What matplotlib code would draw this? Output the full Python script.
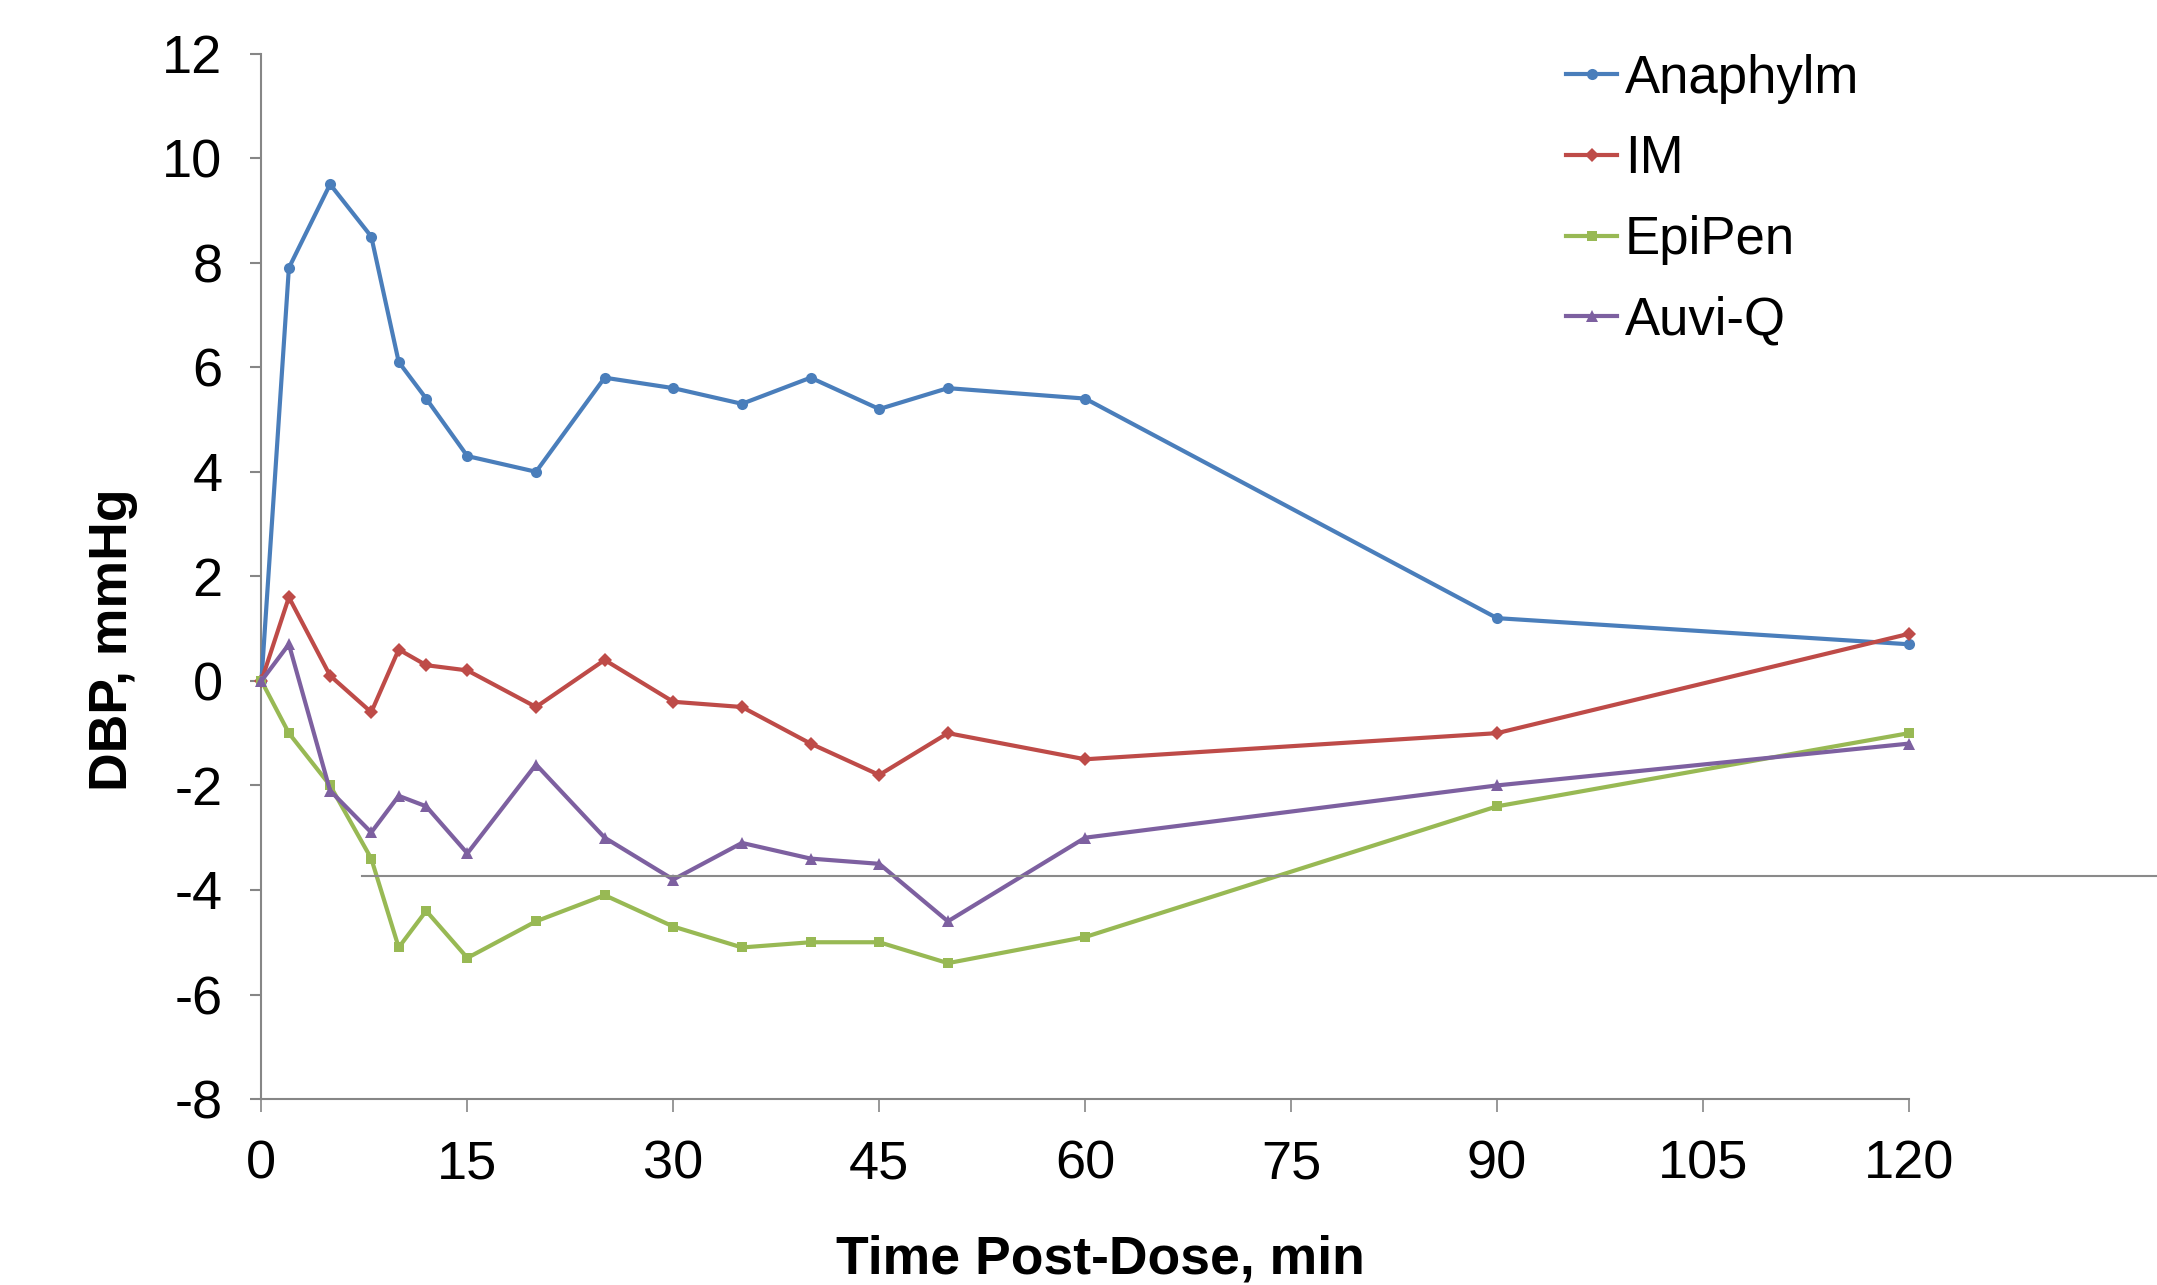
import matplotlib
matplotlib.use("Agg")
import matplotlib.pyplot as plt
from matplotlib.lines import Line2D
import matplotlib.transforms as mtransforms

plt.rcParams['font.family'] = ['Liberation Sans', 'DejaVu Sans']

time_min = [0, 2, 5, 8, 10, 12, 15, 20, 25, 30, 35, 40, 45, 50, 60, 90, 120]
anaphylm = [0, 7.9, 9.5, 8.5, 6.1, 5.4, 4.3, 4.0, 5.8, 5.6, 5.3, 5.8, 5.2, 5.6, 5.4, 1.2, 0.7]
im = [0, 1.6, 0.1, -0.6, 0.6, 0.3, 0.2, -0.5, 0.4, -0.4, -0.5, -1.2, -1.8, -1.0, -1.5, -1.0, 0.9]
epipen = [0, -1.0, -2.0, -3.4, -5.1, -4.4, -5.3, -4.6, -4.1, -4.7, -5.1, -5.0, -5.0, -5.4, -4.9, -2.4, -1.0]
auviq = [0, 0.7, -2.1, -2.9, -2.2, -2.4, -3.3, -1.6, -3.0, -3.8, -3.1, -3.4, -3.5, -4.6, -3.0, -2.0, -1.2]

series_names = ["Anaphylm", "IM", "EpiPen", "Auvi-Q"]
x_ticks = [0, 15, 30, 45, 60, 75, 90, 105, 120]
y_ticks = [-8, -6, -4, -2, 0, 2, 4, 6, 8, 10, 12]
stray_line_y = -3.74

colors = ["#4A7EBB", "#BE4B48", "#98B954", "#7D60A0"]
markers = ["o", "D", "s", "^"]
msizes = [8, 7.5, 7.5, 9]

fig = plt.figure(figsize=(21.57, 12.85), dpi=100)
ax = fig.add_axes([0.1212, 0.1447, 0.7638, 0.8136])

for vals, name, c, m, ms in zip([anaphylm, im, epipen, auviq], series_names, colors, markers, msizes):
    ax.plot(time_min, vals, color=c, marker=m, markersize=ms, lw=3.0, label=name,
            markeredgewidth=0, clip_on=False, zorder=3)

ax.set_xlim(0, 120)
ax.set_ylim(-8, 12)
ax.set_xticks(x_ticks)
ax.set_yticks(y_ticks)
ax.set_yticklabels([str(v) for v in y_ticks])

for s in ["top", "right"]:
    ax.spines[s].set_visible(False)
for s in ["left", "bottom"]:
    ax.spines[s].set_color("#868686")
    ax.spines[s].set_linewidth(1.5)

ax.tick_params(axis='y', direction='out', length=8, width=1.5, color="#868686", labelsize=39, pad=20)
ax.tick_params(axis='x', direction='out', length=9, width=1.2, color="#868686", labelsize=39, pad=20)

ax.set_xlabel("Time Post-Dose, min", fontsize=38.5, fontweight='bold', va='center')
ax.xaxis.set_label_coords(0.509, -0.153)
ax.set_ylabel("DBP, mmHg", fontsize=38.5, fontweight='bold', va='center')
ax.yaxis.set_label_coords(-0.09, 0.4395)

# stray horizontal line (figure x, data y)
trans = mtransforms.blended_transform_factory(fig.transFigure, ax.transData)
fig.add_artist(Line2D([0.168, 1.0], [stray_line_y, stray_line_y], transform=trans,
                      color="#8a8a8a", lw=1.5, zorder=1))

leg = ax.legend(loc='upper left', bbox_to_anchor=(0.779, 1.02), frameon=False,
                fontsize=38, handlelength=0.97, handletextpad=0.15, labelspacing=0.58,
                borderaxespad=0)

fig.savefig("out.png", dpi=100)
